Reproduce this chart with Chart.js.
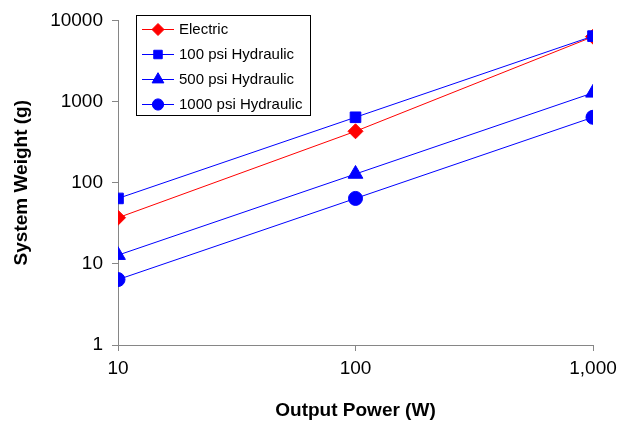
<!DOCTYPE html>
<html lang="en">
<head>
<meta charset="UTF-8">
<title>System Weight vs Output Power</title>
<style>
  body { margin: 0; background: #fff; }
</style>
</head>
<body>
<canvas id="weightChart" width="629" height="423"></canvas>
<script src="https://cdn.jsdelivr.net/npm/chart.js"></script>
<script>
// data
const outputPower = [10, 100, 1000];
const electric = [37, 430, 6300];
const hyd100 = [64, 640, 6400];
const hyd500 = [12.8, 128, 1280];
const hyd1000 = [6.4, 64, 640];
const seriesNames = ['Electric', '100 psi Hydraulic', '500 psi Hydraulic', '1000 psi Hydraulic'];
const xTicks = [10, 100, 1000];
const yTicks = [1, 10, 100, 1000, 10000];

const FONT = '"Liberation Sans", Arial, sans-serif';
const AXIS_GRAY = '#868686';

function pts(values) {
    return outputPower.map((x, i) => ({ x: x, y: values[i] }));
}

// legend drawn as a boxed list with line + marker samples
const boxLegend = {
    id: 'boxLegend',
    afterDraw(chart) {
        const ctx = chart.ctx;
        const x0 = 136, y0 = 15, w = 174, h = 100;
        ctx.save();
        ctx.fillStyle = '#fff';
        ctx.fillRect(x0, y0, w, h);
        ctx.strokeStyle = '#000';
        ctx.lineWidth = 1;
        ctx.strokeRect(x0 + 0.5, y0 + 0.5, w, h);
        chart.data.datasets.forEach((ds, i) => {
            const cy = y0 + 14 + i * 25;
            ctx.strokeStyle = ds.borderColor;
            ctx.lineWidth = 1;
            ctx.beginPath();
            ctx.moveTo(x0 + 6, cy + 0.5);
            ctx.lineTo(x0 + 38, cy + 0.5);
            ctx.stroke();
            ctx.fillStyle = ds.backgroundColor;
            Chart.helpers.drawPoint(ctx, {
                pointStyle: ds.pointStyle,
                radius: ds.pointRadius * 0.8,
                borderWidth: 1
            }, x0 + 22, cy + 0.5);
            ctx.fillStyle = '#000';
            ctx.font = '15px ' + FONT;
            ctx.textBaseline = 'middle';
            ctx.textAlign = 'left';
            ctx.fillText(ds.label, x0 + 43, cy + 1);
        });
        ctx.restore();
    }
};

function series(label, values, color, style, radius, order) {
    return {
        label: label,
        data: pts(values),
        borderColor: color,
        backgroundColor: color,
        borderWidth: 1,
        pointStyle: style,
        pointRadius: radius,
        pointHoverRadius: radius,
        pointBorderWidth: 1,
        order: order
    };
}

new Chart(document.getElementById('weightChart'), {
    type: 'line',
    data: {
        datasets: [
            series(seriesNames[0], electric, '#ff0000', 'rectRot', 7.5, 3),
            series(seriesNames[1], hyd100, '#0000ff', 'rect', 7.5, 2),
            series(seriesNames[2], hyd500, '#0000ff', 'triangle', 8.5, 1),
            series(seriesNames[3], hyd1000, '#0000ff', 'circle', 7, 0)
        ]
    },
    options: {
        responsive: false,
        animation: false,
        layout: { padding: { left: 0, right: 36, top: 15, bottom: 0 } },
        plugins: {
            legend: { display: false },
            tooltip: { enabled: false }
        },
        scales: {
            x: {
                type: 'logarithmic',
                min: 10,
                max: 1000,
                afterBuildTicks: s => { s.ticks = xTicks.map(v => ({ value: v })); },
                afterFit: s => { s.height = 78; },
                grid: { drawOnChartArea: false, drawTicks: true, tickLength: 6, color: AXIS_GRAY },
                border: { color: AXIS_GRAY, width: 1 },
                ticks: {
                    color: '#000',
                    font: { family: FONT, size: 19 },
                    padding: 6,
                    maxRotation: 0,
                    callback: v => v.toLocaleString('en-US')
                },
                title: {
                    display: true,
                    text: 'Output Power (W)',
                    color: '#000',
                    font: { family: FONT, size: 19, weight: 'bold' },
                    padding: { top: 0, bottom: 1 }
                }
            },
            y: {
                type: 'logarithmic',
                min: 1,
                max: 10000,
                afterBuildTicks: s => { s.ticks = yTicks.map(v => ({ value: v })); },
                afterFit: s => { s.width = 118; },
                grid: { drawOnChartArea: false, drawTicks: true, tickLength: 6, color: AXIS_GRAY },
                border: { color: AXIS_GRAY, width: 1 },
                ticks: {
                    color: '#000',
                    font: { family: FONT, size: 19 },
                    padding: 9,
                    callback: v => String(v)
                },
                title: {
                    display: true,
                    text: 'System Weight (g)',
                    color: '#000',
                    font: { family: FONT, size: 19, weight: 'bold' },
                    padding: { top: 10, bottom: 0 }
                }
            }
        }
    },
    plugins: [boxLegend]
});
</script>
</body>
</html>
